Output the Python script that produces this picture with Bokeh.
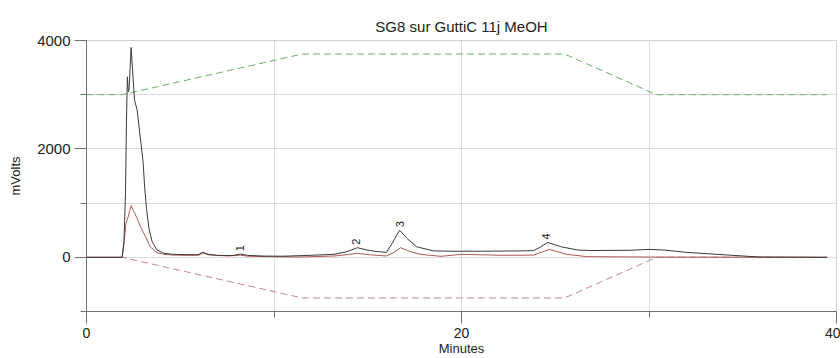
import math
from bokeh.plotting import figure
from bokeh.models import FixedTicker, Range1d, ColumnDataSource
from bokeh.embed import file_html
from bokeh.resources import INLINE

# --- data (minutes, mVolts) ---
ch1_t = [0, 1.8, 1.9, 2.0, 2.08, 2.13, 2.18, 2.23, 2.27, 2.38, 2.56, 2.7, 3.02, 3.1, 3.2, 3.33, 3.5,
         3.76, 4.12, 4.6, 5.2, 5.8, 6.0, 6.2, 6.5, 7.0, 7.8, 8.2, 8.6, 9.5, 10.5, 11.4, 12.3, 13.2, 13.9,
         14.45, 14.97, 15.5, 16.0, 16.3, 16.7, 17.1, 17.6, 18.5, 19.5, 21.0, 23.0, 23.85, 24.2, 24.6,
         25.3, 26.2, 27.0, 29.0, 30.0, 30.8, 32.0, 34.2, 35.9, 39.5]
ch1_v = [0, 0, 0, 300, 1200, 2500, 3330, 3050, 3100, 3870, 2900, 2720, 1750, 1300, 900, 530, 290,
         135, 73, 55, 50, 48, 55, 95, 55, 35, 32, 60, 35, 22, 20, 30, 42, 55, 104,
         177, 134, 105, 91, 256, 500, 347, 195, 118, 112, 112, 118, 122, 190, 274,
         195, 134, 125, 130, 146, 134, 91, 42, 5, 0]

ch2_t = [0, 1.8, 1.9, 2.0, 2.1, 2.2, 2.3, 2.38, 2.5, 2.7, 2.88, 3.15, 3.41, 3.76, 4.12, 4.6, 5.5,
         6.0, 6.2, 6.5, 7.5, 8.2, 8.6, 10.0, 11.4, 13.2, 13.9, 14.45, 15.0, 16.0, 16.4, 16.75, 17.28,
         17.8, 18.9, 20.0, 22.1, 23.85, 24.3, 24.7, 25.6, 26.7, 30.0, 39.5]
ch2_v = [0, 0, 0, 250, 620, 720, 850, 955, 860, 720, 560, 380, 190, 85, 55, 42, 35,
         40, 80, 45, 25, 40, 20, 10, 5, 24, 49, 73, 49, 24, 91, 177, 104,
         55, 18, 55, 37, 40, 100, 146, 55, 12, 5, 0]

grad_b_t = [0, 1.9, 11.5, 25.5, 30.4, 39.5]
grad_b_v = [3000, 3000, 3750, 3750, 3000, 3000]

grad_a_t = [0, 1.9, 11.5, 25.5, 30.4, 39.5]
grad_a_v = [0, 0, -750, -750, 0, 0]

peak_t = [8.16, 14.35, 16.7, 24.5]
peak_v = [55, 177, 500, 275]
peak_lbl = ["1", "2", "3", "4"]

x_major = [0, 20, 40]
x_minor = [10, 30]
y_major = [0, 2000, 4000]
y_minor = [-1000, 1000, 3000]

FONT = "Liberation Sans"

p = figure(width=840, height=358, output_backend="svg", toolbar_location=None,
           x_range=Range1d(0, 40), y_range=Range1d(-1000, 4000),
           min_border_left=86, min_border_right=4, min_border_top=40, min_border_bottom=45,
           title="SG8 sur GuttiC 11j MeOH")
p.title.align = "center"
p.title.text_font = FONT
p.title.text_font_size = "15px"
p.title.text_font_style = "normal"
p.title.text_color = "#222222"
p.title.standoff = 11

p.outline_line_color = "#d0d0d0"
p.background_fill_color = "white"
p.border_fill_color = "white"

for ax, maj, mnr in ((p.xaxis[0], x_major, x_minor), (p.yaxis[0], y_major, y_minor)):
    ax.ticker = FixedTicker(ticks=maj, minor_ticks=mnr)
    ax.axis_line_color = "#707070"
    ax.major_tick_line_color = "#707070"
    ax.minor_tick_line_color = "#707070"
    ax.major_tick_out = 12
    ax.major_tick_in = 0
    ax.minor_tick_out = 6
    ax.minor_tick_in = 0
    ax.major_label_text_font = FONT
    ax.major_label_text_color = "#222222"

p.yaxis.major_label_text_font_size = "15px"
p.xaxis.major_label_text_font_size = "14px"
p.xaxis.major_label_standoff = 4
p.yaxis.major_label_standoff = 4

p.yaxis.axis_label = "mVolts"
p.yaxis.axis_label_text_font = FONT
p.yaxis.axis_label_text_font_size = "13px"
p.yaxis.axis_label_text_font_style = "normal"
p.yaxis.axis_label_text_color = "#222222"
p.yaxis.axis_label_standoff = 11

p.xaxis.axis_label = "Minutes"
p.xaxis.axis_label_text_font = FONT
p.xaxis.axis_label_text_font_size = "13px"
p.xaxis.axis_label_text_font_style = "normal"
p.xaxis.axis_label_text_color = "#222222"
p.xaxis.axis_label_standoff = 0

for g in (p.xgrid[0], p.ygrid[0]):
    g.grid_line_color = "#dcdcdc"
    g.minor_grid_line_color = "#dcdcdc"

p.line(grad_b_t, grad_b_v, line_color="#6cae6c", line_width=1, line_dash="7 4")
p.line(grad_a_t, grad_a_v, line_color="#c08a8a", line_width=1, line_dash="7 4")
p.line(ch2_t, ch2_v, line_color="#ad5a55", line_width=1)
p.line(ch1_t, ch1_v, line_color="#3a3a3a", line_width=1)

src = ColumnDataSource(dict(t=peak_t, v=peak_v, s=peak_lbl))
p.text(x="t", y="v", text="s", source=src, angle=math.pi / 2, text_align="left",
       text_baseline="middle", y_offset=-3, text_font_size="11px",
       text_color="#222222", text_font={"value": FONT})

open("out.html", "w").write(file_html(p, INLINE))
